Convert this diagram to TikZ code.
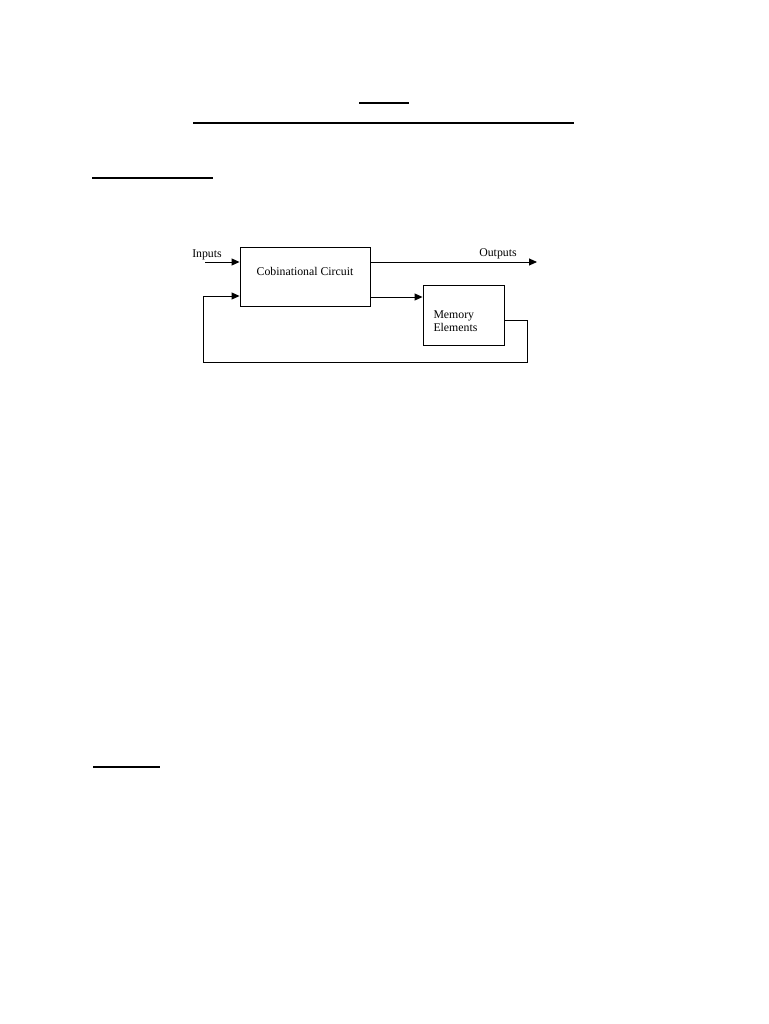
\documentclass[tikz,border=0pt]{standalone}
\usepackage{fontspec}
\setmainfont{Liberation Serif}
\usepackage{tikz}
\usetikzlibrary{positioning, calc}
\usetikzlibrary{arrows, arrows.meta}

\begin{document}
\begin{tikzpicture}[x=1pt,y=-1pt,->,>={Triangle[length=8pt,width=7pt]},line width=0.9pt,font=\fontsize{11.8}{13.5}\selectfont]
\tikzset{block/.style={draw,-,rectangle,inner sep=0pt}}
\useasboundingbox (0,0) rectangle (768,1024);

% underlines
\draw[-,line width=2pt] (359,103) -- (409,103);
\draw[-,line width=2pt] (193,123) -- (574,123);
\draw[-,line width=2pt] (92,178) -- (213,178);
\draw[-,line width=2pt] (93,767) -- (160,767);

\node[block, minimum width=130pt, minimum height=59pt, text height=8pt, text depth=10pt] (CC) at (305,276.5) {Cobinational Circuit};
\node[block, minimum width=81pt, minimum height=60pt] (Mem) at (463.5,315) {};
\node[align=left, text width=60pt, inner sep=0pt] (MemTxt) at (463.5,321) {Memory\\Elements};

\coordinate (In) at (205,262);
\coordinate (Out) at (537,262);
\coordinate (Lo) at (0,297);
\coordinate (Back) at (0,296);
\coordinate (MemOut) at (0,320);
\coordinate (FbR) at (527,362);
\coordinate (FbL) at (203,362);

\node (InLbl) at (207,255) {Inputs};
\node (OutLbl) at (498,254) {Outputs};

\path
    (In) edge (In -| CC.west)
    (In -| CC.east) edge (Out)
    (CC.east |- Lo) edge (Mem.west |- Lo);
\draw (Mem.east |- MemOut) -- (FbR |- MemOut) -- (FbR) -- (FbL) -- (FbL |- Back) -- (CC.west |- Back);
\end{tikzpicture}
\end{document}
